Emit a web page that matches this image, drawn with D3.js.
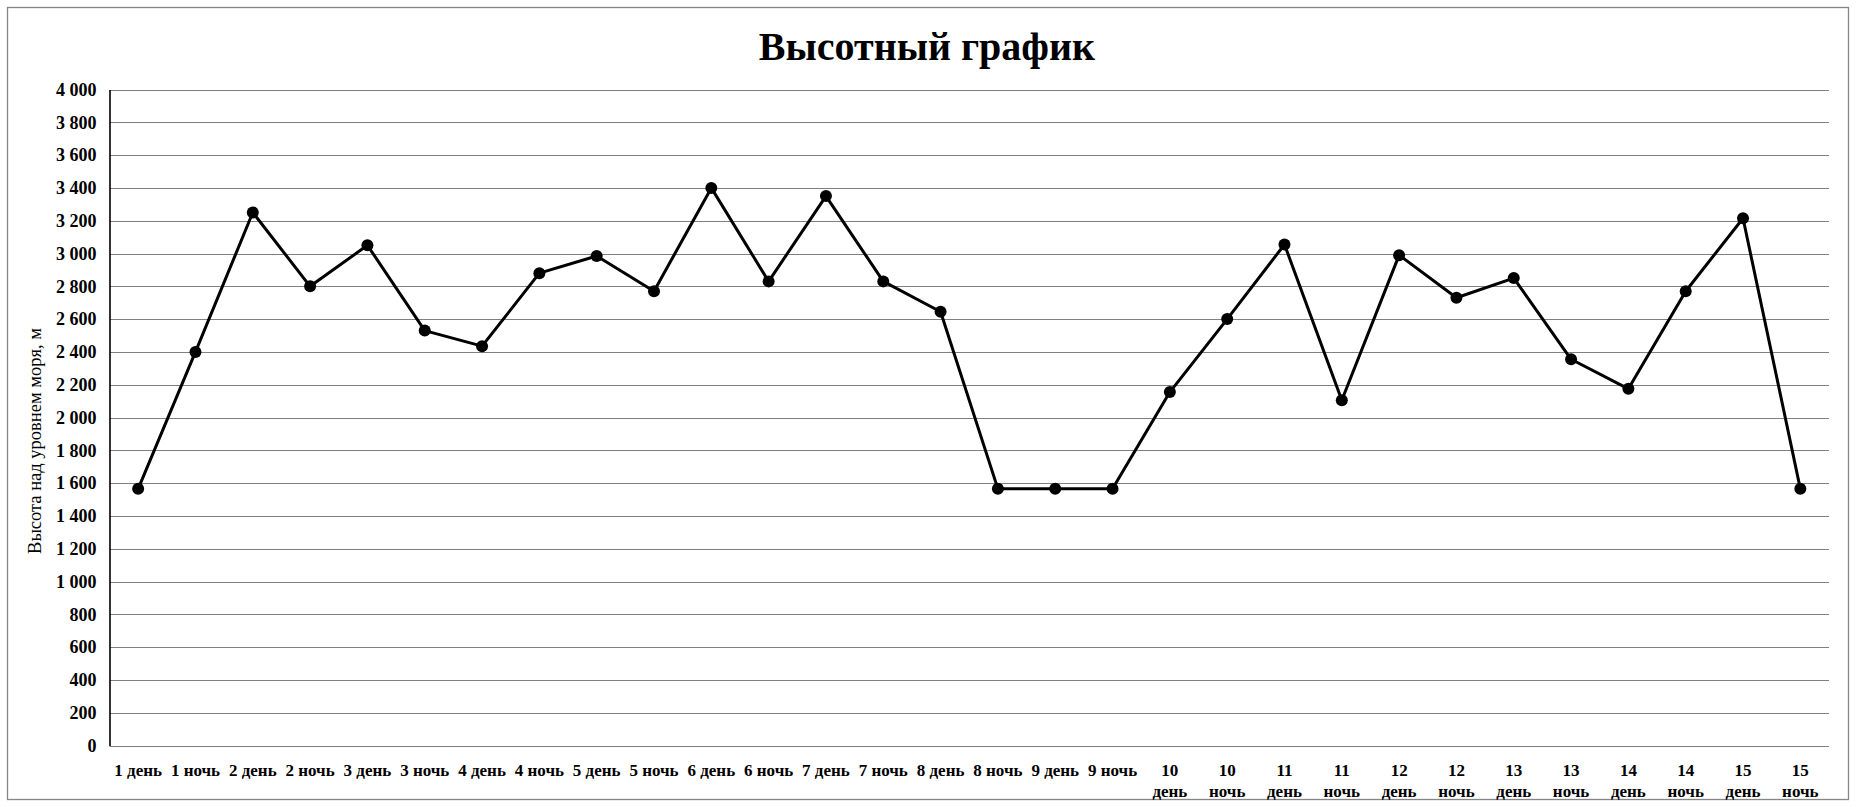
<!DOCTYPE html>
<html>
<head>
<meta charset="utf-8">
<script src="https://cdn.jsdelivr.net/npm/d3@7"></script>
<style>
  html, body { margin: 0; padding: 0; background: #fff; }
  svg { display: block; }
</style>
</head>
<body>
<svg id="chart" width="1857" height="807"></svg>
<script>
const title = "Высотный график";
const yAxisTitle = "Высота над уровнем моря, м";
const categories = [
  "1 день", "1 ночь", "2 день", "2 ночь", "3 день", "3 ночь", "4 день", "4 ночь",
  "5 день", "5 ночь", "6 день", "6 ночь", "7 день", "7 ночь", "8 день", "8 ночь",
  "9 день", "9 ночь", "10 день", "10 ночь", "11 день", "11 ночь", "12 день", "12 ночь",
  "13 день", "13 ночь", "14 день", "14 ночь", "15 день", "15 ночь"
];
const altitudes = [
  1565, 2400, 3250, 2800, 3050, 2530, 2435, 2880,
  2985, 2770, 3400, 2830, 3350, 2830, 2645, 1565,
  1565, 1565, 2155, 2600, 3055, 2105, 2990, 2730,
  2850, 2355, 2175, 2770, 3215, 1565
];
const yTicks = [0, 200, 400, 600, 800, 1000, 1200, 1400, 1600, 1800, 2000,
  2200, 2400, 2600, 2800, 3000, 3200, 3400, 3600, 3800, 4000];

const W = 1857, H = 807;
const plot = { left: 109.5, right: 1829, top: 89.5, bottom: 745.5 };
const serif = "'Liberation Serif', 'Times New Roman', serif";

const svg = d3.select("#chart");

// outer border
svg.append("rect")
  .attr("x", 7.5).attr("y", 7.5)
  .attr("width", 1841).attr("height", 792)
  .attr("fill", "#fff").attr("stroke", "#868686").attr("stroke-width", 1.3);

const x = d3.scaleBand().domain(categories).range([plot.left, plot.right]).padding(0);
const y = d3.scaleLinear().domain([0, 4000]).range([plot.bottom, plot.top]);

// gridlines
svg.append("g")
  .selectAll("line")
  .data(yTicks)
  .join("line")
  .attr("x1", plot.left).attr("x2", plot.right)
  .attr("y1", d => Math.round(y(d)) + 0.5).attr("y2", d => Math.round(y(d)) + 0.5)
  .attr("stroke", "#808080").attr("stroke-width", 1.2);

// y axis
const fmt = d => d3.format(",")(d).replace(/,/g, "\u00a0");
const yAxis = d3.axisLeft(y).tickValues(yTicks).tickFormat(fmt).tickSize(0).tickPadding(13);
const gy = svg.append("g").attr("transform", `translate(${plot.left},0)`).call(yAxis);
gy.select(".domain").attr("stroke", "#000").attr("stroke-width", 1.6);
gy.selectAll("text")
  .attr("font-family", serif).attr("font-size", 18).attr("font-weight", "bold")
  .attr("fill", "#000");

// x axis labels (two-digit day numbers wrap onto two lines)
const gx = svg.append("g");
const band = x.bandwidth();
categories.forEach(c => {
  const parts = c.split(" ");
  const t = gx.append("text")
    .attr("y", 776)
    .attr("text-anchor", "middle")
    .attr("font-family", serif).attr("font-size", 17).attr("font-weight", "bold")
    .attr("fill", "#000");
  if (parts[0].length >= 2) {
    parts.forEach((p, i) => {
      t.append("tspan").attr("x", x(c) + band / 2).attr("dy", i === 0 ? 0 : 21).text(p);
    });
  } else {
    t.attr("x", x(c) + band / 2).text(c);
  }
});

// line
const cx = (d, i) => x(categories[i]) + band / 2;
const line = d3.line().x((d, i) => cx(d, i)).y(d => y(d));
svg.append("path")
  .datum(altitudes)
  .attr("d", line)
  .attr("fill", "none").attr("stroke", "#000").attr("stroke-width", 3)
  .attr("stroke-linejoin", "round");

svg.append("g")
  .selectAll("circle")
  .data(altitudes)
  .join("circle")
  .attr("cx", (d, i) => cx(d, i))
  .attr("cy", d => y(d))
  .attr("r", 6)
  .attr("fill", "#000");

// title
svg.append("text")
  .attr("x", 927).attr("y", 60)
  .attr("text-anchor", "middle")
  .attr("font-family", serif).attr("font-size", 40).attr("font-weight", "bold")
  .attr("fill", "#000")
  .text(title);

// y axis title
svg.append("text")
  .attr("transform", "translate(41,441) rotate(-90)")
  .attr("text-anchor", "middle")
  .attr("font-family", serif).attr("font-size", 18.5)
  .attr("fill", "#000")
  .text(yAxisTitle);
</script>
</body>
</html>
